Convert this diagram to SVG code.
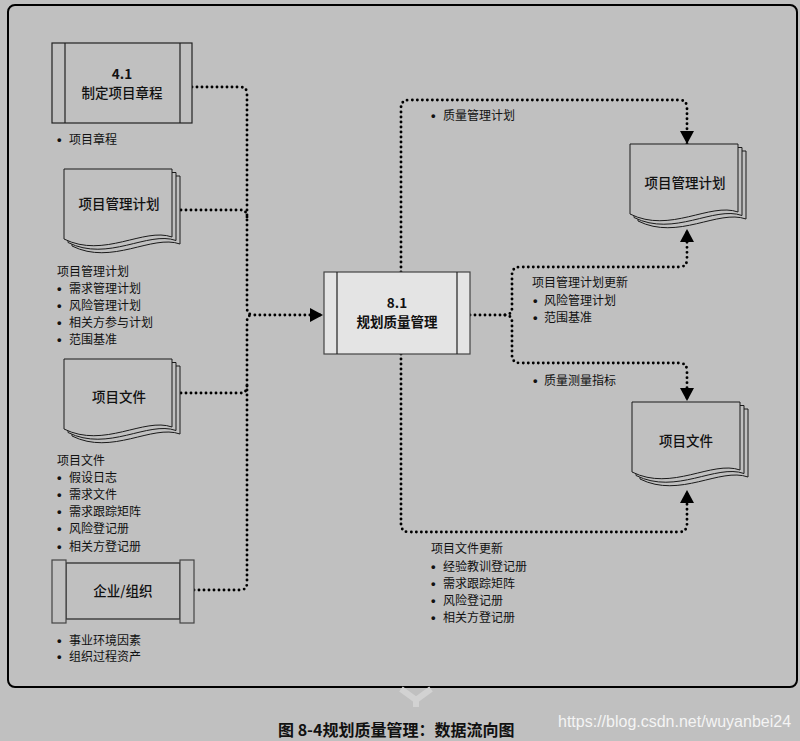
<svg xmlns="http://www.w3.org/2000/svg" xmlns:xlink="http://www.w3.org/1999/xlink" width="800" height="741" viewBox="0 0 800 741">
<style>
text{font-family:"Noto Sans CJK SC","Liberation Sans",sans-serif;fill:#111}
.lbl{font-size:13.5px;font-weight:500;text-anchor:middle}
.num{font-size:13.5px;font-weight:700;text-anchor:middle}
.t{font-size:12px}
.b{font-family:"Liberation Sans",Arial,sans-serif;font-size:13px;font-weight:700}
.box{fill:#c0c0c0;stroke:#222;stroke-width:1.2}
.pbox{fill:#e4e4e4;stroke:#444;stroke-width:1.2}
.page{fill:#c0c0c0;stroke:#1a1a1a;stroke-width:1}
.dot{fill:none;stroke:#000;stroke-width:2.9;stroke-linecap:round;stroke-dasharray:0 5}
.cap{font-size:16px;font-weight:700}
.wm{font-family:"Liberation Sans",Arial,sans-serif;font-size:16px;fill:#f4f4f4}
</style>
<defs>
<path id="doc" d="M0,0 H108 V68 C80,58 40,90 0,70 Z"/>
<g id="stack">
<use xlink:href="#doc" href="#doc" class="page" transform="translate(8,7)"/>
<use xlink:href="#doc" href="#doc" class="page" transform="translate(4,3.5)"/>
<use xlink:href="#doc" href="#doc" class="page"/>
</g>
<marker id="arr" markerUnits="userSpaceOnUse" markerWidth="14" markerHeight="14" refX="13" refY="7" orient="auto">
<path d="M0,0 L13,7 L0,14 Z" fill="#000"/>
</marker>
</defs>
<rect x="0" y="0" width="800" height="741" fill="#c0c0c0"/>
<rect x="8" y="5" width="789" height="682" rx="7" fill="#c0c0c0" stroke="#000" stroke-width="2"/>
<path d="M401,689 L416,700 L431,689 M416,700 V707" fill="none" stroke="#d2d2d2" stroke-width="6"/>

<g id="connectors">
<path class="dot" d="M192,87 H240 Q247,87 247,94 V308 Q247,315 254,315 H323" marker-end="url(#arr)"/>
<path class="dot" d="M194,590 H240 Q247,590 247,583 V322 Q247,315 252,315"/>
<path class="dot" d="M181,210 H240 Q247,210 247,217"/>
<path class="dot" d="M181,393 H240 Q247,393 247,386"/>
<path class="dot" d="M470,315 H505 Q512,315 512,308 V275 Q512,267 520,267 H679 Q687,267 687,259 V229" marker-end="url(#arr)"/>
<path class="dot" d="M505,315 Q512,315 512,322 V355 Q512,363 520,363 H679 Q687,363 687,371 V401" marker-end="url(#arr)"/>
<path class="dot" d="M401,272 V108 Q401,100 409,100 H679 Q687,100 687,108 V144" marker-end="url(#arr)"/>
<path class="dot" d="M401,354 V524 Q401,532 409,532 H679 Q687,532 687,524 V490" marker-end="url(#arr)"/>
</g>

<g id="n41">
<rect class="box" x="52" y="43" width="140" height="80"/>
<path d="M65,43 V123 M180,43 V123" stroke="#222" stroke-width="1.2"/>
<text class="num" x="122" y="79">4.1</text>
<text class="lbl" x="122" y="97.5">制定项目章程</text>
<text class="t"><tspan class="b" x="57" y="143.5">•</tspan><tspan x="69">项目章程</tspan></text>
</g>

<g id="pmp-in">
<use xlink:href="#stack" href="#stack" transform="translate(64,169)"/>
<text class="lbl" x="119" y="209">项目管理计划</text>
<text class="t" x="57" y="275.5">项目管理计划</text>
<text class="t"><tspan class="b" x="57" y="292.5">•</tspan><tspan x="69">需求管理计划</tspan></text>
<text class="t"><tspan class="b" x="57" y="309.5">•</tspan><tspan x="69">风险管理计划</tspan></text>
<text class="t"><tspan class="b" x="57" y="326.5">•</tspan><tspan x="69">相关方参与计划</tspan></text>
<text class="t"><tspan class="b" x="57" y="343.5">•</tspan><tspan x="69">范围基准</tspan></text>
</g>

<g id="docs-in">
<use xlink:href="#stack" href="#stack" transform="translate(64,359)"/>
<text class="lbl" x="119" y="402">项目文件</text>
<text class="t" x="57" y="464.5">项目文件</text>
<text class="t"><tspan class="b" x="57" y="481.7">•</tspan><tspan x="69">假设日志</tspan></text>
<text class="t"><tspan class="b" x="57" y="498.9">•</tspan><tspan x="69">需求文件</tspan></text>
<text class="t"><tspan class="b" x="57" y="516.1">•</tspan><tspan x="69">需求跟踪矩阵</tspan></text>
<text class="t"><tspan class="b" x="57" y="533.3">•</tspan><tspan x="69">风险登记册</tspan></text>
<text class="t"><tspan class="b" x="57" y="550.5">•</tspan><tspan x="69">相关方登记册</tspan></text>
</g>

<g id="eef">
<rect class="box" x="66" y="563" width="114" height="56"/>
<rect x="52" y="560" width="14" height="63" fill="#c0c0c0" stroke="#444" stroke-width="1.2"/>
<rect x="180" y="560" width="14" height="63" fill="#c0c0c0" stroke="#444" stroke-width="1.2"/>
<text class="lbl" x="123" y="596">企业/组织</text>
<text class="t"><tspan class="b" x="57" y="644.5">•</tspan><tspan x="69">事业环境因素</tspan></text>
<text class="t"><tspan class="b" x="57" y="661">•</tspan><tspan x="69">组织过程资产</tspan></text>
</g>

<g id="n81">
<rect class="pbox" x="324" y="272" width="146" height="82"/>
<path d="M337,272 V354 M457,272 V354" stroke="#222" stroke-width="1.2"/>
<text class="num" x="397" y="308">8.1</text>
<text class="num" x="397" y="327">规划质量管理</text>
</g>

<g id="pmp-out">
<use xlink:href="#stack" href="#stack" transform="translate(630,144)"/>
<text class="lbl" x="685" y="187.5">项目管理计划</text>
</g>

<g id="docs-out">
<use xlink:href="#stack" href="#stack" transform="translate(632,402)"/>
<text class="lbl" x="686" y="446">项目文件</text>
</g>

<g id="labels">
<text class="t"><tspan class="b" x="431" y="119.5">•</tspan><tspan x="443">质量管理计划</tspan></text>
<text class="t" x="532" y="287">项目管理计划更新</text>
<text class="t"><tspan class="b" x="533" y="304.5">•</tspan><tspan x="544">风险管理计划</tspan></text>
<text class="t"><tspan class="b" x="533" y="321.5">•</tspan><tspan x="544">范围基准</tspan></text>
<text class="t"><tspan class="b" x="533" y="384.5">•</tspan><tspan x="544">质量测量指标</tspan></text>
<text class="t" x="431" y="552.5">项目文件更新</text>
<text class="t"><tspan class="b" x="431" y="570.5">•</tspan><tspan x="443">经验教训登记册</tspan></text>
<text class="t"><tspan class="b" x="431" y="587.5">•</tspan><tspan x="443">需求跟踪矩阵</tspan></text>
<text class="t"><tspan class="b" x="431" y="604.5">•</tspan><tspan x="443">风险登记册</tspan></text>
<text class="t"><tspan class="b" x="431" y="621.5">•</tspan><tspan x="443">相关方登记册</tspan></text>
</g>

<text class="cap" x="278" y="736">图 8-4规划质量管理：数据流向图</text>
<text class="wm" x="558" y="727">https://blog.csdn.net/wuyanbei24</text>
</svg>
